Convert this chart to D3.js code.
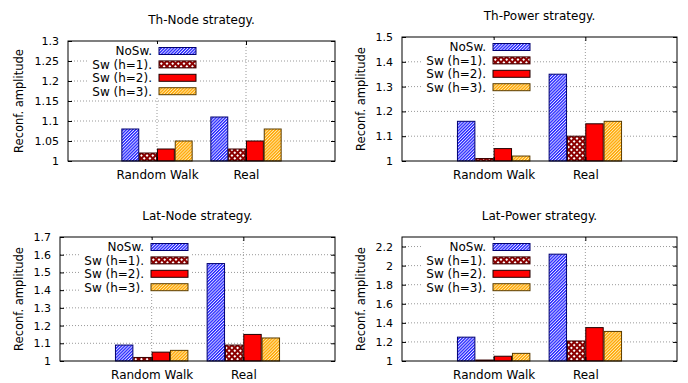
<!DOCTYPE html>
<html>
<head>
<meta charset="utf-8">
<script src="https://cdn.jsdelivr.net/npm/d3@7"></script>
<style>
  body { margin: 0; background: #fff; }
  svg { display: block; }
  text { font-family: 'DejaVu Sans', 'Liberation Sans', sans-serif; fill: #000; }
</style>
</head>
<body>
<svg id="chart" width="688" height="383"></svg>
<script>
// categories and series
const categories = ['Random Walk', 'Real'];
const seriesNames = ['NoSw.', 'Sw (h=1).', 'Sw (h=2).', 'Sw (h=3).'];
const titles = ['Th-Node strategy.', 'Th-Power strategy.', 'Lat-Node strategy.', 'Lat-Power strategy.'];

// values per series: [Random Walk, Real]
const thNode   = [[1.08, 1.11], [1.02, 1.03], [1.03, 1.05], [1.05, 1.08]];
const thPower  = [[1.16, 1.35], [1.01, 1.10], [1.05, 1.15], [1.02, 1.16]];
const latNode  = [[1.09, 1.55], [1.02, 1.09], [1.05, 1.15], [1.06, 1.13]];
const latPower = [[1.25, 2.12], [1.01, 1.21], [1.05, 1.35], [1.08, 1.31]];

// y tick labels and axis tops
const thNodeTicks   = [1, 1.05, 1.1, 1.15, 1.2, 1.25, 1.3];
const thPowerTicks  = [1, 1.1, 1.2, 1.3, 1.4, 1.5];
const latNodeTicks  = [1, 1.1, 1.2, 1.3, 1.4, 1.5, 1.6, 1.7];
const latPowerTicks = [1, 1.2, 1.4, 1.6, 1.8, 2, 2.2];
const yMax = [1.3, 1.5, 1.7, 2.3];

const yLabel = 'Reconf. amplitude';

const svg = d3.select('#chart');

// fill patterns (gnuplot-like)
const defs = svg.append('defs');

function hatch(id, bg, fg, size, lineW) {
  const p = defs.append('pattern')
      .attr('id', id)
      .attr('patternUnits', 'userSpaceOnUse')
      .attr('width', size).attr('height', size)
      .attr('patternTransform', 'rotate(45)');
  p.append('rect').attr('width', size).attr('height', size).attr('fill', bg);
  p.append('rect').attr('width', lineW).attr('height', size).attr('fill', fg);
}
hatch('pBlue', '#e8e8ff', '#2222ff', 2.2, 1.3);
hatch('pOrange', '#ffeab0', '#ffa500', 2.2, 1.3);

const chk = defs.append('pattern')
    .attr('id', 'pCheck')
    .attr('patternUnits', 'userSpaceOnUse')
    .attr('width', 4).attr('height', 4)
    .attr('patternTransform', 'rotate(45)');
chk.append('rect').attr('width', 4).attr('height', 4).attr('fill', '#8b0000');
chk.append('rect').attr('x', 1).attr('y', 1).attr('width', 2).attr('height', 2).attr('fill', '#ffffff');

const fills = ['url(#pBlue)', 'url(#pCheck)', '#ff0000', 'url(#pOrange)'];
const strokes = ['#000070', '#3a0000', '#200000', '#5a3c00'];

const panels = [
  {values: thNode,   ticks: thNodeTicks,   left: 68,  right: 335, top: 41,  bottom: 161, ylab: 23},
  {values: thPower,  ticks: thPowerTicks,  left: 402, right: 677, top: 37,  bottom: 161, ylab: 365},
  {values: latNode,  ticks: latNodeTicks,  left: 60,  right: 335, top: 237, bottom: 361, ylab: 23},
  {values: latPower, ticks: latPowerTicks, left: 402, right: 677, top: 237, bottom: 361, ylab: 365}
];

panels.forEach((p, pi) => {
  const g = svg.append('g');

  const x = d3.scaleLinear().domain([0, categories.length + 1]).range([p.left, p.right]);
  const y = d3.scaleLinear().domain([1, yMax[pi]]).range([p.bottom, p.top]);
  const unit = x(1) - x(0);
  const barW = 0.19 * unit;

  // grid
  g.append('g').selectAll('line.hg')
      .data(p.ticks.filter(t => t > 1 && t < yMax[pi]))
      .join('line')
      .attr('x1', p.left).attr('x2', p.right)
      .attr('y1', d => y(d)).attr('y2', d => y(d))
      .attr('stroke', '#999').attr('stroke-dasharray', '1,2');
  g.append('g').selectAll('line.vg')
      .data(categories)
      .join('line')
      .attr('x1', (d, i) => x(i + 1)).attr('x2', (d, i) => x(i + 1))
      .attr('y1', p.top).attr('y2', p.bottom)
      .attr('stroke', '#999').attr('stroke-dasharray', '1,2');

  // bars
  p.values.forEach((vals, s) => {
    g.append('g').selectAll('rect')
        .data(vals)
        .join('rect')
        .attr('x', (d, i) => x(i + 1 + (s - 1.5) * 0.2) - barW / 2)
        .attr('y', d => y(d))
        .attr('width', barW)
        .attr('height', d => y(1) - y(d))
        .attr('fill', fills[s])
        .attr('stroke', strokes[s])
        .attr('stroke-width', 1);
  });

  // axes
  const yAxis = d3.axisLeft(y).tickValues(p.ticks).tickSize(-4).tickPadding(9).tickFormat(d => d);
  const yAxisG = g.append('g').attr('transform', `translate(${p.left},0)`).call(yAxis);
  yAxisG.select('.domain').remove();
  yAxisG.selectAll('text').style('font-size', '11px').style('font-family', 'DejaVu Sans');

  const yAxisR = d3.axisRight(y).tickValues(p.ticks).tickSize(-4).tickFormat('');
  g.append('g').attr('transform', `translate(${p.right},0)`).call(yAxisR)
      .call(a => a.select('.domain').remove());

  const xAxis = d3.axisBottom(x).tickValues([1, 2]).tickSize(-4).tickPadding(9)
      .tickFormat(d => categories[d - 1]);
  const xAxisG = g.append('g').attr('transform', `translate(0,${p.bottom})`).call(xAxis);
  xAxisG.select('.domain').remove();
  xAxisG.selectAll('text').style('font-size', '12px').style('font-family', 'DejaVu Sans');

  const xAxisT = d3.axisTop(x).tickValues([1, 2]).tickSize(-4).tickFormat('');
  g.append('g').attr('transform', `translate(0,${p.top})`).call(xAxisT)
      .call(a => a.select('.domain').remove());

  // legend with opaque key box
  const lg = g.append('g').attr('transform', `translate(${p.left},${p.top})`);
  lg.append('rect')
      .attr('x', 20).attr('y', 3)
      .attr('width', 111).attr('height', 54)
      .attr('fill', '#fff');
  seriesNames.forEach((name, s) => {
    const ry = 10 + s * 13.4;
    lg.append('text')
        .attr('x', 84).attr('y', ry)
        .attr('dy', '0.36em')
        .attr('text-anchor', 'end')
        .style('font-size', '12px')
        .text(name);
    lg.append('rect')
        .attr('x', 91).attr('y', ry - 3.5)
        .attr('width', 37).attr('height', 7)
        .attr('fill', fills[s])
        .attr('stroke', strokes[s]);
  });

  // border
  g.append('rect')
      .attr('x', p.left).attr('y', p.top)
      .attr('width', p.right - p.left).attr('height', p.bottom - p.top)
      .attr('fill', 'none').attr('stroke', '#000').attr('stroke-width', 1);

  // title
  g.append('text')
      .attr('x', (p.left + p.right) / 2)
      .attr('y', p.top - 17)
      .attr('text-anchor', 'middle')
      .style('font-size', '12px')
      .text(titles[pi]);

  // y label
  g.append('text')
      .attr('transform', `translate(${p.ylab},${(p.top + p.bottom) / 2}) rotate(-90)`)
      .attr('text-anchor', 'middle')
      .style('font-size', '11.5px')
      .text(yLabel);
});
</script>
</body>
</html>
